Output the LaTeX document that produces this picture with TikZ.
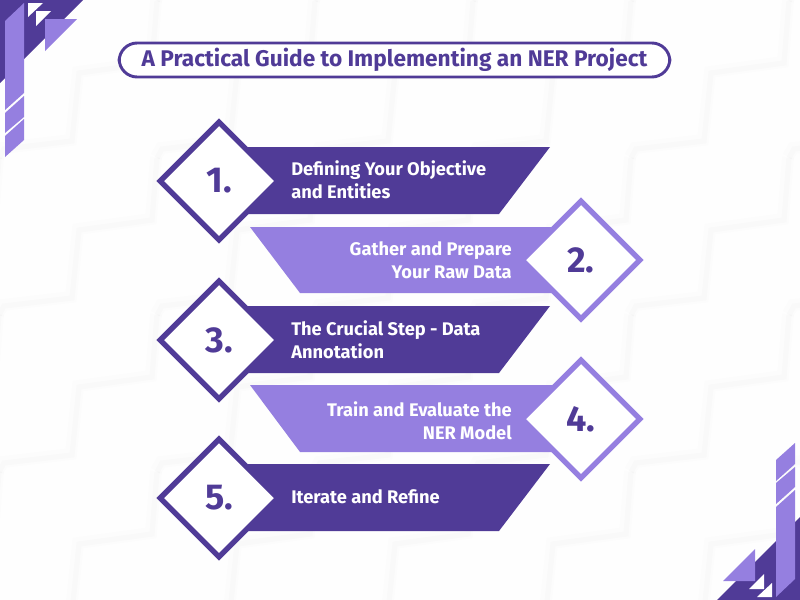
\documentclass[tikz,border=0pt]{standalone}
\usepackage{fontspec}
\setmainfont{Fira Sans}
\usetikzlibrary{shapes.geometric}
\definecolor{darkpurple}{HTML}{503B97}
\definecolor{lightpurple}{HTML}{957FE0}
\definecolor{paper}{HTML}{FEFEFE}
\tikzset{
	cornerdeco/.pic = {
		\fill[darkpurple] (0,0) -- (83,0) -- (0,83) -- cycle;
		\fill[white] (28,3) -- (43,3) -- (28,17) -- cycle;
		\fill[white] (36,11) -- (51,11) -- (36,26) -- cycle;
		\fill[lightpurple] (45,19) -- (77,19) -- (45,51) -- cycle;
		\fill[lightpurple] (5,21) -- (24,3) -- (24,93) -- (5,110) -- cycle;
		\fill[lightpurple] (5,113) -- (24,96) -- (24,117) -- (5,133) -- cycle;
		\fill[lightpurple] (5,136) -- (24,119) -- (24,140) -- (5,157) -- cycle;
	},
	paperedge/.pic = {
		\draw[black, opacity=0.008, line width=9] (0,0) -- (-5,62) -- (-78,72) -- (-85,140) -- (-153,148) -- (-158,157);
		\draw[black, opacity=0.012, line width=4] (1,1) -- (-4,63) -- (-77,73) -- (-84,141) -- (-152,149) -- (-157,158);
	}
}
\begin{document}
\begin{tikzpicture}[x=0.75pt, y=-0.75pt,
	numbox/.style = {diamond, draw, fill=white, line width=4.1pt, minimum width=90pt, minimum height=90pt, inner sep=0pt, text=darkpurple, font=\bfseries\fontsize{27}{30}\selectfont},
	darkbox/.style = {numbox, draw=darkpurple},
	lightbox/.style = {numbox, draw=lightpurple},
	darkband/.style = {fill=darkpurple},
	lightband/.style = {fill=lightpurple},
	lefttext/.style = {anchor=west, align=left, text=white, inner sep=0pt, font=\bfseries\fontsize{13.7}{17.6}\selectfont},
	righttext/.style = {lefttext, anchor=east, align=right}]
	% background
	\fill[paper] (0,0) rectangle (800,600);
	\useasboundingbox (0,0) rectangle (800,600);
	\begin{scope}
		\clip (0,0) rectangle (800,600);
		\foreach \i in {0,...,7}
			\foreach \j in {0,...,4}
				\pic at (\i*158-160, \j*157-157) {paperedge};
	\end{scope}
	% corners
	\pic at (0,0) {cornerdeco};
	\pic[rotate=180] at (800,600) {cornerdeco};
	% title
	\node[draw=darkpurple, fill=white, line width=2.2pt, rounded corners=13.5pt, minimum width=413pt, minimum height=25.5pt, inner sep=0pt, text=darkpurple, font=\bfseries\fontsize{17}{20}\selectfont] (title) at (394.5,60) {A Practical Guide to Implementing an NER Project};
	% bands
	\fill[darkband] (219,147) -- (550,147) -- (499,214) -- (219,214) -- cycle;
	\fill[lightband] (250,227) -- (581,227) -- (581,293) -- (300,293) -- cycle;
	\fill[darkband] (219,306) -- (550,306) -- (499,373) -- (219,373) -- cycle;
	\fill[lightband] (250,385) -- (581,385) -- (581,452) -- (300,452) -- cycle;
	\fill[darkband] (219,464) -- (550,464) -- (499,531) -- (219,531) -- cycle;
	% numbers
	\node[darkbox] (num1) at (219,181) {1.};
	\node[lightbox] (num2) at (581,260) {2.};
	\node[darkbox] (num3) at (219,340) {3.};
	\node[lightbox] (num4) at (581,419) {4.};
	\node[darkbox] (num5) at (219,498) {5.};
	% labels
	\node[lefttext] (text1) at (291,180) {Defining Your Objective\\and Entities};
	\node[righttext] (text2) at (512,260) {Gather and Prepare\\Your Raw Data};
	\node[lefttext] (text3) at (291,340) {The Crucial Step - Data\\Annotation};
	\node[righttext] (text4) at (512,421) {Train and Evaluate the\\NER Model};
	\node[lefttext] (text5) at (291,497) {Iterate and Refine};
\end{tikzpicture}
\end{document}
